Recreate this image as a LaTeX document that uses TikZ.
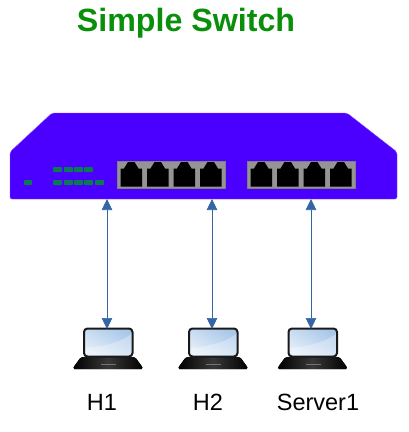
\documentclass[tikz,border=0pt]{standalone}
\usepackage{fontspec}
\setmainfont{Liberation Sans}
\usetikzlibrary{arrows.meta}
\definecolor{swblue}{HTML}{4B00FF}
\definecolor{ledgreen}{HTML}{0A7A50}
\definecolor{titlegreen}{HTML}{0A8F0A}
\definecolor{linkblue}{HTML}{3465A4}
\definecolor{screenlight}{HTML}{E6EFF9}
\definecolor{screendark}{HTML}{A9C8E9}
\tikzset{
	led/.style={fill=ledgreen,rounded corners=0.8pt},
	laptop/.pic={
		\fill[left color=black,right color=black,middle color=black!78,rounded corners=1.5pt]
			(-27,29) -- (27,29) -- (34,38.5) -- (35,41) -- (-35,41) -- (-34,38.5) -- cycle;
		\fill[black!55] (-7,35.5) rectangle (8,37);
		\begin{scope}
			\clip[rounded corners=3.5pt] (-24,0.5) rectangle (24.5,28.5);
			\fill[top color=screendark,bottom color=screenlight,shading angle=-30] (-24,0.5) rectangle (24.5,28.5);
			\fill[white,opacity=0.3] (-24,20) .. controls (-5,19) and (14,14) .. (24.5,5) -- (24.5,28.5) -- (-24,28.5) -- cycle;
		\end{scope}
		\draw[black!90,line width=2pt,rounded corners=3.5pt] (-24,0.5) rectangle (24.5,28.5);
	}
}
\begin{document}
\begin{tikzpicture}[x=1pt,y=-1pt,
		every node/.style={font=\fontsize{23.5}{26}\selectfont,inner sep=0pt},
		link/.style={{Triangle[length=11pt,width=10.5pt]}-{Triangle[length=11pt,width=10.5pt]},linkblue,line width=0.6pt}]
	\useasboundingbox (0,0) rectangle (408,432);
	\node[font=\fontsize{32.2}{35}\selectfont\bfseries,text=titlegreen] (title) at (186,23.5) {Simple Switch};
	% switch body
	\fill[swblue,draw=swblue!70!white,line width=0.4pt,rounded corners=2pt] (52,113) -- (347,113) -- (397,152) -- (397,199) -- (10,199) -- (10,152) -- cycle;
	\foreach \x in {53,64,74,84}
		\fill[led] (\x,167) rectangle +(9,5);
	\foreach \x in {53,64,74,84,95}
		\fill[led] (\x,180) rectangle +(9,5);
	\fill[led] (24,180) rectangle +(8,5);
	% ports
	\foreach \gx in {117,247} {
		\fill[black!42,draw=black!50,line width=0.5pt] (\gx,161) rectangle +(108.5,27);
		\foreach \i in {0,1,2,3}
			\fill[black] ({\gx+3.5+\i*26.5},186.5) -- ++(0,-18) -- ++(3.5,0) -- ++(4,-6.5) -- ++(6.5,0) -- ++(4,6.5) -- ++(3.5,0) -- ++(0,18) -- cycle;
	}
	\coordinate (swa) at (107,199);
	\coordinate (swb) at (212,199);
	\coordinate (swc) at (311,199);
	% hosts
	\foreach \nm/\x in {a/108,b/213,c/312.5} {
		\coordinate (lap\nm) at (\x,328);
		\pic at (lap\nm) {laptop};
	}
	\coordinate (hosta) at (107,329);
	\coordinate (hostb) at (212,329);
	\coordinate (hostc) at (311,329);
	\draw[link] (swa) -- (hosta);
	\draw[link] (swb) -- (hostb);
	\draw[link] (swc) -- (hostc);
	\node (h1) at (102,402) {H1};
	\node (h2) at (208,402) {H2};
	\node (server) at (318,402) {Server1};
\end{tikzpicture}
\end{document}
